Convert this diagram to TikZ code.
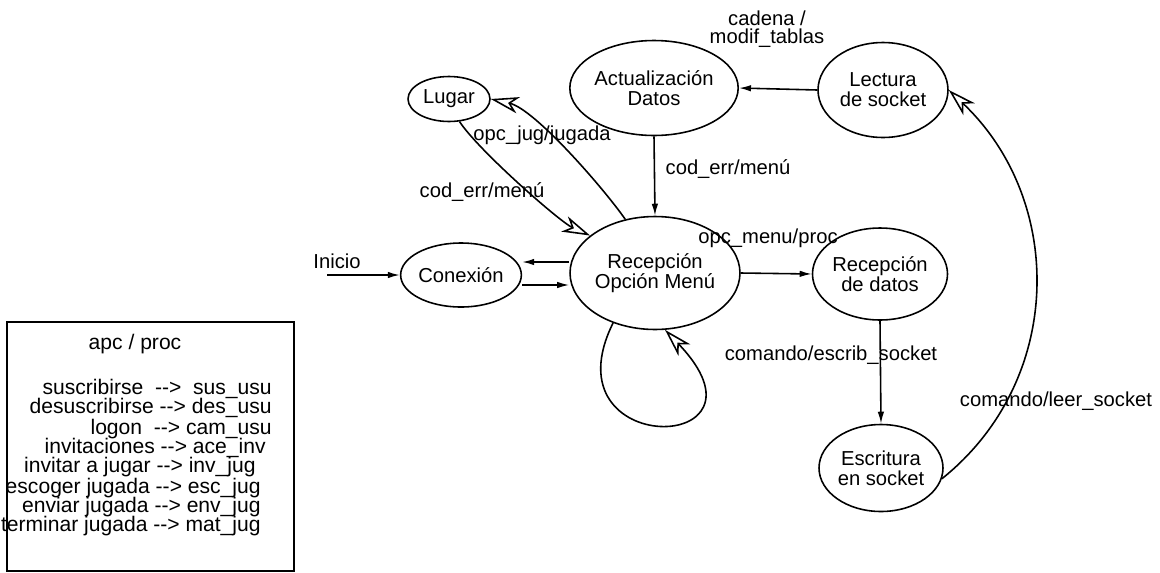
\documentclass[tikz,border=0pt]{standalone}
\usepackage{fontspec}
\setmainfont{Liberation Sans}
\usetikzlibrary{arrows.meta,shapes.geometric}
\tikzset{
  estado/.style={ellipse, draw=black, line width=0.9pt, inner sep=0pt, align=center,
    font=\fontsize{11.5}{11.5}\selectfont},
  flecha/.style={-{Latex[length=2.4mm,width=1.3mm]}, draw=black, line width=0.9pt},
  hueca/.style={-{Stealth[open,length=5.6mm,width=3.3mm,inset=1.6mm,fill=white]}, draw=black, line width=0.9pt},
  etiqueta/.style={font=\fontsize{11.5}{10.4}\selectfont, align=center, inner sep=0pt},
  tabla/.style={font=\fontsize{12}{12}\selectfont, inner sep=0pt, anchor=east},
}
\begin{document}
\begin{tikzpicture}[x=0.02cm, y=-0.02cm]
  \useasboundingbox (0,0) rectangle (1160,572);

  % estados
  \node[estado, minimum width=1.64cm, minimum height=0.9cm] (lugar) at (449,99) {Lugar};
  \node[estado, minimum width=2.84cm, minimum height=1.9cm] (actual) at (654,88) {Actualización\\Datos};
  \node[estado, minimum width=2.6cm, minimum height=1.9cm] (lectura) at (883,90) {Lectura\\de socket};
  \node[estado, minimum width=2.0cm, minimum height=1.28cm] (conexion) at (461,275) {Conexión};
  \node[estado, minimum width=2.88cm, minimum height=2.26cm] (rec) at (655,273) {Recepción\\Opción Menú};
  \node[estado, minimum width=2.5cm, minimum height=1.84cm] (datos) at (880,274) {Recepción\\de datos};
  \node[estado, minimum width=2.48cm, minimum height=1.74cm] (escritura) at (881,468) {Escritura\\en socket};

  % transiciones rectas
  \coordinate (inicio) at (327,275);
  \node[etiqueta] (lblinicio) at (337,261) {Inicio};
  \draw[flecha] (inicio) -- (conexion.west);
  \draw[flecha] ([yshift=2.2mm]rec.west) -- ([yshift=2.2mm]rec.west -| conexion.east);
  \draw[flecha] ([yshift=-2mm]conexion.east) -- ([yshift=-2mm]conexion.east -| rec.west);
  \draw[flecha] (lectura.west) -- (actual.east);
  \draw[flecha] (actual.south) -- (rec.north);
  \draw[flecha] (rec.east) -- (datos.west);
  \draw[flecha] (datos.south) -- (escritura.north);

  % transiciones curvas
  \draw[hueca] (rec.119) .. controls (605,190) and (535,109) .. (lugar.east);
  \draw[hueca] (lugar.-65) .. controls (478,150) and (560,222) .. (rec.150);
  \draw[hueca] (rec.-130) .. controls (545,460) and (785,455) .. (rec.-80);
  \draw[hueca] (escritura.-10) .. controls (1065,380) and (1065,200) .. (lectura.east);

  % etiquetas
  \node[etiqueta] (lblcadena) at (767,29) {cadena /\\modif\_tablas};
  \node[etiqueta] (lblopcjug) at (542,135) {opc\_jug/jugada};
  \node[etiqueta] (lblerrlugar) at (482,192) {cod\_err/menú};
  \node[etiqueta] (lblerractual) at (728,169) {cod\_err/menú};
  \node[etiqueta] (lblopcmenu) at (768,238) {opc\_menu/proc};
  \node[etiqueta] (lblescrib) at (831,355) {comando/escrib\_socket};
  \node[etiqueta] (lblleer) at (1056,401) {comando/leer\_socket};

  % tabla de opciones
  \draw[line width=0.8pt] (7,322) rectangle (294,571);
  \node[etiqueta, font=\fontsize{12}{12}\selectfont] (lbltabla) at (135,344) {apc / proc};
  \node[tabla] (t1) at (272,389) {suscribirse\ \ -{}-{}>\ \ sus\_usu};
  \node[tabla] (t2) at (272,408) {desuscribirse -{}-{}> des\_usu};
  \node[tabla] (t3) at (272,429) {logon\ \ -{}-{}> cam\_usu};
  \node[tabla] (t4) at (266,448) {invitaciones -{}-{}> ace\_inv};
  \node[tabla] (t5) at (256,467) {invitar a jugar -{}-{}> inv\_jug};
  \node[tabla] (t6) at (261,488) {escoger jugada -{}-{}> esc\_jug};
  \node[tabla] (t7) at (261,507) {enviar jugada -{}-{}> env\_jug};
  \node[tabla] (t8) at (261,526) {terminar jugada -{}-{}> mat\_jug};
\end{tikzpicture}
\end{document}
